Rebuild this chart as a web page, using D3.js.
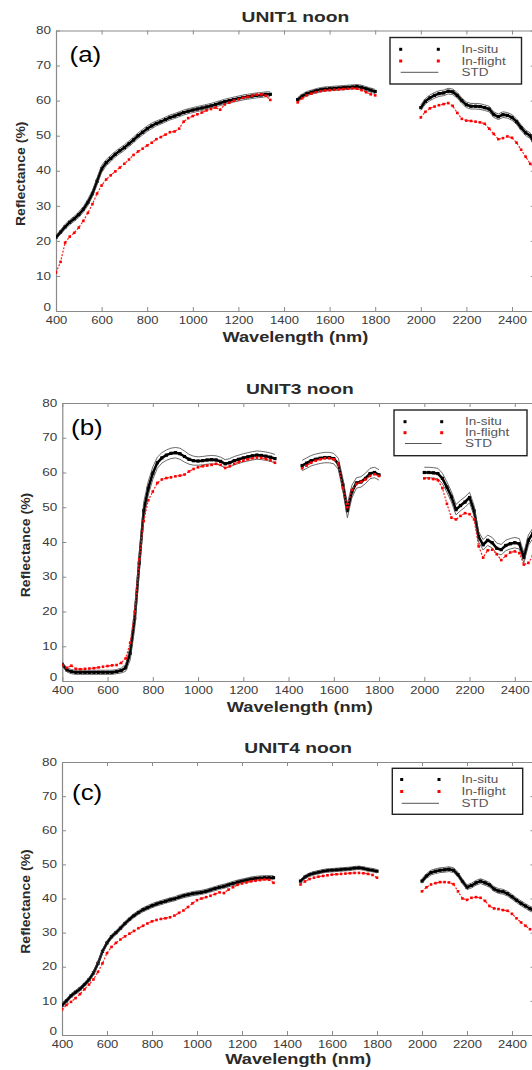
<!DOCTYPE html>
<html>
<head>
<meta charset="utf-8">
<script src="https://cdn.jsdelivr.net/npm/d3@7"></script>
<style>
  body { margin: 0; background: #fff; }
  svg { display: block; }
  text { font-family: "Liberation Sans", Arial, sans-serif; }
</style>
</head>
<body>
<svg id="fig" width="532" height="1070"></svg>
<script>
// Sampled wavelengths (nm); the water-absorption bands are left out.
const wavelengths = [
  400, 420, 440, 460, 480, 500, 520, 540, 560, 580,
  600, 620, 640, 660, 680, 700, 720, 740, 760, 780,
  800, 820, 840, 860, 880, 900, 920, 940, 960, 980,
  1000, 1020, 1040, 1060, 1080, 1100, 1120, 1140, 1160, 1180,
  1200, 1220, 1240, 1260, 1280, 1300, 1320, 1340,
  1460, 1480, 1500, 1520, 1540, 1560, 1580, 1600, 1620, 1640,
  1660, 1680, 1700, 1720, 1740, 1760, 1780, 1800,
  2000, 2020, 2040, 2060, 2080, 2100, 2120, 2140, 2160, 2180,
  2200, 2220, 2240, 2260, 2280, 2300, 2320, 2340, 2360, 2380,
  2400, 2420, 2440, 2460, 2480, 2500
];

const xTickValues = [400, 600, 800, 1000, 1200, 1400, 1600, 1800, 2000, 2200, 2400];
const yTickValues = [0, 10, 20, 30, 40, 50, 60, 70, 80];
const legendLabels = ["In-situ", "In-flight", "STD"];
const panelTitles = ["UNIT1 noon", "UNIT3 noon", "UNIT4 noon"];
const panelTags = ["(a)", "(b)", "(c)"];
const xAxisTitle = "Wavelength (nm)";
const yAxisTitle = "Reflectance (%)";

// UNIT1 reflectance (%)
const unit1InSitu = [
  21, 22.5, 24, 25.3, 26.3, 27.5, 29, 31, 33.5, 37,
  40.5, 42.3, 43.5, 44.7, 45.7, 46.6, 47.7, 48.8, 50, 51,
  52, 52.8, 53.5, 54, 54.6, 55.2, 55.6, 56.1, 56.6, 57,
  57.3, 57.6, 57.9, 58.2, 58.5, 58.9, 59.3, 59.7, 60, 60.3,
  60.6, 60.9, 61.1, 61.3, 61.5, 61.6, 61.8, 61.8,
  60.3, 61.3, 62, 62.4, 62.8, 63.1, 63.3, 63.4, 63.5, 63.6,
  63.7, 63.8, 63.9, 64, 63.8, 63.4, 63, 62.6,
  58, 59.8, 60.8, 61.5, 62, 62.2, 62.7, 62.5, 61.5, 60,
  58.8, 58.4, 58.4, 58.3, 58, 57.6, 56, 55.4, 56, 55.8,
  55.2, 54, 52.3, 50.8, 50, 47.5
];
const unit1InFlight = [
  11, 14, 19.5, 21.2, 22.3, 23.8, 25.7, 28, 30.5, 33.5,
  35.8, 37.5, 38.7, 39.8, 40.9, 42, 43.2, 44.5, 45.5, 46.3,
  47.2, 48, 49, 49.6, 50.3, 51, 51.2, 52, 54, 55,
  55.6, 56.1, 56.6, 57.2, 57.6, 58, 57.4, 58.9, 59.4, 60,
  60.4, 60.8, 61.1, 61.4, 61.7, 61.8, 61.4, 60.2,
  59.5, 60.7, 61.5, 62, 62.4, 62.7, 62.9, 63, 63.1, 63.2,
  63.3, 63.4, 63.5, 63.4, 63, 62.4, 61.8, 61.5,
  55.2, 56.8, 57.8, 58.3, 58.7, 59, 59.3, 58.5, 56.5, 54.8,
  54.3, 54.2, 54, 53.8, 53.4, 52, 50.5, 49, 49.3, 49.8,
  49.4, 48, 46, 44, 42, 40
];
const unit1Std = [
  0.6, 0.6, 0.7, 0.7, 0.7, 0.8, 0.8, 0.9, 0.9, 1.0,
  1.0, 0.9, 0.9, 0.8, 0.8, 0.8, 0.8, 0.8, 0.8, 0.8,
  0.8, 0.8, 0.7, 0.7, 0.7, 0.7, 0.7, 0.7, 0.7, 0.7,
  0.7, 0.7, 0.7, 0.7, 0.7, 0.7, 0.7, 0.7, 0.7, 0.7,
  0.7, 0.7, 0.7, 0.7, 0.7, 0.7, 0.7, 0.7,
  0.6, 0.6, 0.6, 0.6, 0.6, 0.6, 0.6, 0.6, 0.6, 0.6,
  0.6, 0.6, 0.6, 0.6, 0.6, 0.6, 0.6, 0.6,
  0.8, 0.8, 0.8, 0.8, 0.8, 0.8, 0.8, 0.8, 0.8, 0.8,
  0.8, 0.8, 0.8, 0.8, 0.8, 0.8, 0.8, 0.8, 0.8, 0.8,
  0.8, 0.8, 0.8, 0.8, 0.8, 0.8
];

// UNIT3 reflectance (%)
const unit3InSitu = [
  4.8, 3.2, 2.7, 2.5, 2.5, 2.5, 2.5, 2.5, 2.5, 2.5,
  2.5, 2.5, 2.7, 3.0, 3.8, 8, 18, 34, 49, 55.5,
  59.8, 62.8, 64.2, 65, 65.5, 65.7, 65.4, 64.6, 63.8, 63.4,
  63.3, 63.4, 63.6, 63.7, 63.6, 63.2, 62.5, 62.8, 63.4, 63.8,
  64.2, 64.5, 64.8, 65, 64.9, 64.7, 64.4, 64,
  62, 62.7, 63.4, 63.8, 64.1, 64.3, 64.3, 64, 62.5, 56.5,
  49, 54.5, 57, 57.3, 58.3, 59.7, 60, 59.3,
  60, 60, 59.9, 59.7, 58.3, 55.8, 53, 49.3, 50.5, 51.5,
  52.8, 49, 41.5, 39.2, 40.5, 39.8, 38.2, 37.8, 39, 39.5,
  39.8, 39.5, 35.5, 40.5, 42.5, 43
];
const unit3InFlight = [
  4.6, 3.8, 4.4, 3.5, 3.4, 3.5, 3.6, 3.7, 3.9, 4.1,
  4.3, 4.5, 4.6, 5.2, 6.5, 11, 20, 35, 46, 52,
  54.5, 57, 58, 58.4, 58.6, 58.9, 59.1, 59.4, 60.3, 61,
  61.5, 61.8, 62, 62.2, 62.5, 62.2, 61.3, 61.8, 62.5, 63,
  63.4, 63.8, 64.1, 64.3, 64.2, 63.9, 63.5, 62.8,
  61.2, 62, 62.8, 63.4, 63.8, 64.1, 64.1, 63.8, 62.6, 55.5,
  50, 55, 56.7, 57.3, 58, 59, 59.5, 59,
  58.3, 58.3, 58.1, 57.8, 55.5, 51, 47, 46.5, 47.5, 48.3,
  48, 46.5, 38.8, 35.5, 37.6, 37.8, 36.5, 34.8, 36, 37,
  37.3, 36.8, 33.5, 34, 36, 37
];
const unit3Std = [
  0.6, 0.6, 0.6, 0.6, 0.6, 0.6, 0.6, 0.6, 0.6, 0.6,
  0.6, 0.6, 0.6, 0.7, 1.0, 2.0, 3.0, 3.0, 2.5, 2.0,
  1.8, 1.6, 1.5, 1.5, 1.5, 1.5, 1.6, 1.6, 1.4, 1.3,
  1.2, 1.2, 1.2, 1.2, 1.2, 1.2, 1.2, 1.2, 1.2, 1.2,
  1.2, 1.2, 1.2, 1.2, 1.2, 1.2, 1.2, 1.2,
  1.5, 1.5, 1.5, 1.5, 1.5, 1.5, 1.5, 1.5, 1.6, 1.8,
  2.0, 1.8, 1.5, 1.5, 1.5, 1.5, 1.5, 1.5,
  1.5, 1.5, 1.5, 1.5, 1.5, 1.5, 1.5, 1.5, 1.5, 1.5,
  1.5, 1.5, 1.5, 1.5, 1.5, 1.5, 1.5, 1.5, 1.5, 1.5,
  1.5, 1.5, 1.5, 1.5, 1.5, 1.5
];

// UNIT4 reflectance (%)
const unit4InSitu = [
  8.7, 10, 11.5, 12.5, 13.5, 14.8, 16.2, 18.2, 21, 24.5,
  27, 28.8, 30, 31.3, 32.7, 33.9, 35, 35.9, 36.7, 37.3,
  37.9, 38.4, 38.8, 39.2, 39.6, 39.9, 40.4, 40.8, 41.1, 41.4,
  41.6, 41.8, 42.1, 42.5, 42.9, 43.3, 43.6, 44, 44.4, 44.8,
  45.1, 45.4, 45.7, 45.9, 46, 46.1, 46.1, 46.1,
  45.1, 46.3, 47, 47.4, 47.7, 48, 48.2, 48.3, 48.4, 48.5,
  48.6, 48.7, 48.9, 49, 48.8, 48.5, 48.3, 48,
  45.1, 46.6, 47.6, 48, 48.3, 48.4, 48.6, 48.3, 47, 45,
  43.3, 43.8, 44.6, 45.1, 44.6, 44, 42.8, 42.2, 42, 41.4,
  40.5, 39.5, 38.6, 37.8, 37, 36.5
];
const unit4InFlight = [
  7.5, 8.8, 9.7, 10.8, 12, 13.4, 14.8, 16.3, 18.5, 21,
  24, 25.8, 27, 28, 28.9, 29.7, 30.5, 31.3, 32, 32.7,
  33.3, 33.7, 34, 34.2, 34.5, 35, 35.8, 36.5, 37.5, 38.6,
  39.5, 40, 40.4, 40.8, 41.3, 41.8, 41.6, 42.6, 43.3, 44,
  44.4, 44.7, 45, 45.2, 45.4, 45.6, 45.5, 44.6,
  44.1, 45, 45.7, 46.1, 46.4, 46.6, 46.8, 47, 47.1, 47.2,
  47.3, 47.4, 47.5, 47.5, 47.4, 47.2, 46.9, 46.1,
  42.1, 43.3, 44.1, 44.5, 44.8, 44.8, 44.7, 44.2, 42.1, 40,
  39.6, 40.2, 40.4, 40.2, 39.3, 37.8, 37.1, 36.9, 36.6, 36.4,
  35.5, 34.2, 33, 32, 31, 30.3
];
const unit4Std = [
  0.6, 0.6, 0.6, 0.6, 0.6, 0.6, 0.6, 0.6, 0.6, 0.6,
  0.6, 0.6, 0.6, 0.6, 0.6, 0.6, 0.6, 0.6, 0.6, 0.6,
  0.6, 0.6, 0.6, 0.6, 0.6, 0.6, 0.6, 0.6, 0.6, 0.6,
  0.6, 0.6, 0.6, 0.6, 0.6, 0.6, 0.6, 0.6, 0.6, 0.6,
  0.6, 0.6, 0.6, 0.6, 0.6, 0.6, 0.6, 0.6,
  0.5, 0.5, 0.5, 0.5, 0.5, 0.5, 0.5, 0.5, 0.5, 0.5,
  0.5, 0.5, 0.5, 0.5, 0.5, 0.5, 0.5, 0.5,
  0.7, 0.7, 0.7, 0.7, 0.7, 0.7, 0.7, 0.7, 0.7, 0.7,
  0.7, 0.7, 0.7, 0.7, 0.7, 0.7, 0.7, 0.7, 0.7, 0.7,
  0.7, 0.7, 0.7, 0.7, 0.7, 0.7
];

// Panel geometry (pixels)
const panels = [
  { title: panelTitles[0], tag: panelTags[0], inSitu: unit1InSitu, inFlight: unit1InFlight, std: unit1Std,
    left: 56, top: 30.5, bottom: 311, step: 45.6, xlabGap: 26,
    legend: { x0: 390, x1: 521.5, y0: 37.5, y1: 84, rows: [49.3, 61, 72.3], m0: 400.7, m1: 438.3, tx: 461.5 },
    tagPos: [69.5, 54.5], ylabX: 20.5 },
  { title: panelTitles[1], tag: panelTags[1], inSitu: unit3InSitu, inFlight: unit3InFlight, std: unit3Std,
    left: 62.3, top: 403, bottom: 681, step: 45.25, xlabGap: 26,
    legend: { x0: 394, x1: 527, y0: 410, y1: 455.7, rows: [421.7, 432.7, 443.5], m0: 405, m1: 441.7, tx: 465 },
    tagPos: [71, 427.5], ylabX: 25.5 },
  { title: panelTitles[2], tag: panelTags[2], inSitu: unit4InSitu, inFlight: unit4InFlight, std: unit4Std,
    left: 62, top: 762, bottom: 1035, step: 45, xlabGap: 24,
    legend: { x0: 392.3, x1: 522.7, y0: 768.3, y1: 814.3, rows: [779.5, 791.5, 803.3], m0: 401.7, m1: 439, tx: 461.5 },
    tagPos: [72, 792.5], ylabX: 25.5 }
];

const svg = d3.select("#fig");
svg.append("rect").attr("width", 532).attr("height", 1070).attr("fill", "#fff");

const AXIS = "#8a8a8a";
const TEXT = "#3a3a3a";

// Widen glyphs horizontally to the figure's broad lettering.
function stretch(sel, k) {
  sel.each(function () {
    const w = this.getComputedTextLength();
    this.setAttribute("textLength", w * k);
    this.setAttribute("lengthAdjust", "spacingAndGlyphs");
  });
}

// Split the sample indices wherever the wavelength jumps over a gap.
function segments(n) {
  const segs = [];
  let cur = [0];
  for (let i = 1; i < n; i++) {
    if (wavelengths[i] - wavelengths[i - 1] > 60) { segs.push(cur); cur = []; }
    cur.push(i);
  }
  segs.push(cur);
  return segs;
}

panels.forEach((p, pi) => {
  const right = p.left + p.step * 10.5;
  const x = d3.scaleLinear().domain([400, 2500]).range([p.left, right]);
  const y = d3.scaleLinear().domain([0, 80]).range([p.bottom, p.top]);
  const g = svg.append("g");

  // Axes with inward ticks on all four sides
  const axB = g.append("g").attr("transform", `translate(0,${p.bottom})`)
    .call(d3.axisBottom(x).tickValues(xTickValues).tickSizeInner(-4).tickSizeOuter(0).tickPadding(6).tickFormat(d3.format("d")));
  const axT = g.append("g").attr("transform", `translate(0,${p.top})`)
    .call(d3.axisTop(x).tickValues(xTickValues).tickSizeInner(-4).tickSizeOuter(0).tickFormat(""));
  const axL = g.append("g").attr("transform", `translate(${p.left},0)`)
    .call(d3.axisLeft(y).tickValues(yTickValues).tickSizeInner(-4).tickSizeOuter(0).tickPadding(5).tickFormat(d3.format("d")));
  const axR = g.append("g").attr("transform", `translate(${right},0)`)
    .call(d3.axisRight(y).tickValues(yTickValues).tickSizeInner(-4).tickSizeOuter(0).tickFormat(""));
  [axB, axT, axL, axR].forEach(a => {
    a.select(".domain").attr("stroke", AXIS).attr("stroke-width", 1.2);
    a.selectAll(".tick line").attr("stroke", AXIS).attr("stroke-width", 1);
    a.selectAll("text").attr("fill", TEXT).attr("font-size", 10).attr("font-family", "Liberation Sans, Arial, sans-serif");
  });
  // the zero label sits just above the corner so it clears the first wavelength label
  axL.selectAll(".tick text").filter(d => d === 0).attr("dy", "-0.05em");
  stretch(axB.selectAll("text"), 1.3);
  stretch(axL.selectAll("text"), 1.35);

  // Titles
  const cx = (p.left + right) / 2;
  const t = g.append("text").attr("x", cx).attr("y", p.top - 14.5)
    .attr("text-anchor", "middle").attr("dominant-baseline", "central")
    .attr("font-size", 15).attr("font-weight", "bold").attr("fill", "#2a2a2a").text(p.title);
  stretch(t, 1.28);
  const xl = g.append("text").attr("x", cx).attr("y", p.bottom + p.xlabGap)
    .attr("text-anchor", "middle").attr("dominant-baseline", "central")
    .attr("font-size", 14).attr("font-weight", "bold").attr("fill", "#2a2a2a").text(xAxisTitle);
  stretch(xl, 1.3);
  const cy = (p.top + p.bottom) / 2 + 3;
  const yl = g.append("text").attr("transform", `translate(${p.ylabX},${cy}) rotate(-90)`)
    .attr("text-anchor", "middle").attr("dominant-baseline", "central")
    .attr("font-size", 13).attr("font-weight", "bold").attr("fill", "#2a2a2a").text(yAxisTitle);
  stretch(yl, 1.08);

  // Panel tag
  const tg = g.append("text").attr("x", p.tagPos[0]).attr("y", p.tagPos[1])
    .attr("dominant-baseline", "central").attr("font-family", "Liberation Serif, Times New Roman, serif")
    .attr("font-size", 22).attr("fill", "#000").text(p.tag);
  stretch(tg, 1.18);

  // Data
  const clipId = `clip${pi}`;
  g.append("clipPath").attr("id", clipId).append("rect")
    .attr("x", p.left).attr("y", p.top).attr("width", right - p.left).attr("height", p.bottom - p.top);
  const plot = g.append("g").attr("clip-path", `url(#${clipId})`);
  const segs = segments(wavelengths.length);
  const line = vals => d3.line().x(i => x(wavelengths[i])).y(i => y(vals[i]));
  const upper = p.inSitu.map((v, i) => v + p.std[i]);
  const lower = p.inSitu.map((v, i) => v - p.std[i]);

  segs.forEach(seg => {
    // in-situ mean
    plot.append("path").attr("d", line(p.inSitu)(seg)).attr("fill", "none")
      .attr("stroke", "#000").attr("stroke-width", 2.6).attr("stroke-linejoin", "round");
    plot.selectAll(null).data(seg).enter().append("rect")
      .attr("x", i => x(wavelengths[i]) - 1.6).attr("y", i => y(p.inSitu[i]) - 1.6)
      .attr("width", 3.2).attr("height", 3.2).attr("fill", "#000");
    // standard deviation envelope
    [upper, lower].forEach(arr => {
      plot.append("path").attr("d", line(arr)(seg)).attr("fill", "none")
        .attr("stroke", "#444").attr("stroke-width", 0.8);
    });
    // in-flight
    plot.append("path").attr("d", line(p.inFlight)(seg)).attr("fill", "none")
      .attr("stroke", "#ff1a1a").attr("stroke-width", 1.2).attr("stroke-dasharray", "2,1.5");
    plot.selectAll(null).data(seg).enter().append("rect")
      .attr("x", i => x(wavelengths[i]) - 1.3).attr("y", i => y(p.inFlight[i]) - 1.3)
      .attr("width", 2.6).attr("height", 2.6).attr("fill", "#ff0000");
  });

  // Legend
  const L = p.legend;
  const lg = g.append("g");
  lg.append("rect").attr("x", L.x0).attr("y", L.y0).attr("width", L.x1 - L.x0).attr("height", L.y1 - L.y0)
    .attr("fill", "#fff").attr("stroke", "#222").attr("stroke-width", 1.4);
  const markerColors = ["#000", "#ff0000"];
  markerColors.forEach((c, r) => {
    [L.m0, L.m1].forEach(mx => {
      lg.append("rect").attr("x", mx - 1.5).attr("y", L.rows[r] - 1.5).attr("width", 3).attr("height", 3).attr("fill", c);
    });
  });
  lg.append("line").attr("x1", L.m0).attr("x2", L.m1).attr("y1", L.rows[2]).attr("y2", L.rows[2])
    .attr("stroke", "#555").attr("stroke-width", 1);
  legendLabels.forEach((lab, r) => {
    const lt = lg.append("text").attr("x", L.tx).attr("y", L.rows[r]).attr("dominant-baseline", "central")
      .attr("font-size", 10).attr("fill", "#555").text(lab);
    stretch(lt, 1.35);
  });
});
</script>
</body>
</html>
